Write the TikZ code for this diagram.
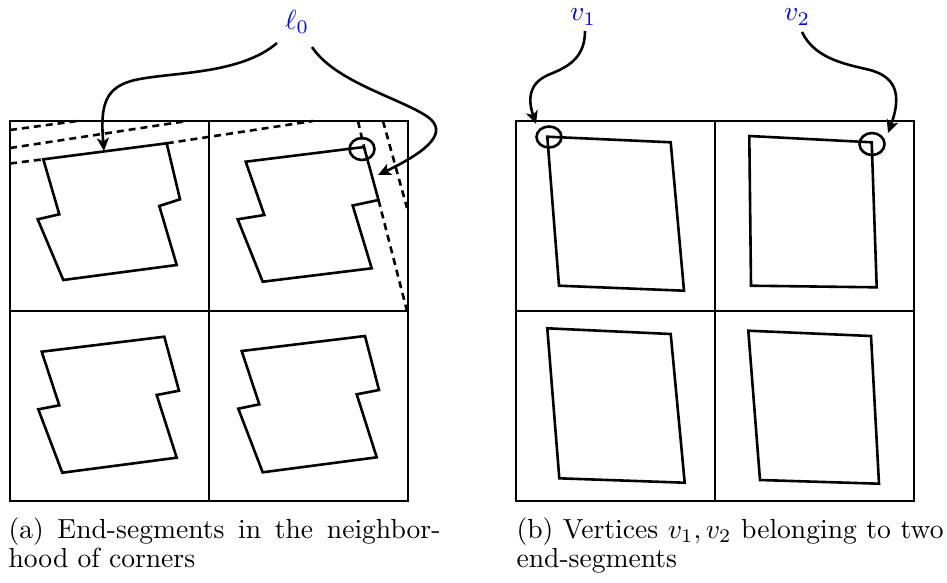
\documentclass[tikz,border=0pt]{standalone}
\usetikzlibrary{arrows.meta}
\begin{document}
\begin{tikzpicture}[x=1pt,y=-1pt,
  frame/.style={line width=2.8pt},
  poly/.style={line width=2.6pt,line join=miter},
  dline/.style={line width=2.6pt,dash pattern=on 7pt off 5pt},
  arr/.style={line width=2.6pt,-{Stealth[length=13pt,width=12pt,inset=3.5pt]}},
  circ/.style={line width=2.6pt},
  lab/.style={text=blue,scale=2.76,inner sep=0pt},
  captext/.style={scale=2.76,inner sep=0pt,anchor=base west}]
\useasboundingbox (0,0) rectangle (947,582);

% ---------- left panel ----------
% dashed lines
\draw[dline] (10,130) -- (77,121);
\draw[dline] (10,148) -- (187,121);
\draw[dline] (10,163.5) -- (43.3,159.3);
\draw[dline] (166.7,143.3) -- (313,121);
\draw[dline] (358,121) -- (364,147);
\draw[dline] (378.5,200) -- (407,311);
\draw[dline] (383,121) -- (407,208);

% polygons
\draw[poly] (43.3,159.3) -- (166.7,143.3) -- (180,199.3) -- (159.3,206) -- (176.7,265) -- (63.3,280) -- (37.7,219.3) -- (59.3,214.3) -- cycle;
\draw[poly] (245.7,161.7) -- (364,147) -- (378.5,200) -- (352.7,205.5) -- (371.7,268.3) -- (262.7,281.7) -- (237.7,219.3) -- (264.3,215) -- cycle;
\draw[poly] (41.7,351.7) -- (164.3,336.7) -- (179,390.7) -- (156.7,395) -- (176.7,457.7) -- (62.3,472.7) -- (38.3,409.3) -- (59.3,405.3) -- cycle;
\draw[poly] (241.7,351) -- (365,336) -- (379,390) -- (356.7,394.3) -- (376.7,457.3) -- (262.7,472.3) -- (238.3,408.7) -- (259.3,404.3) -- cycle;

% grid
\draw[frame] (10,121) rectangle (408,501);
\draw[frame] (209,121) -- (209,501);
\draw[frame] (10,311) -- (408,311);

% circle
\draw[circ] (362,149) ellipse [x radius=12.5pt, y radius=11pt];

% label and arrows
\node[lab] (l0) at (297,22) {$\ell_0$};
\coordinate (l0a) at (277,43);
\coordinate (l0b) at (312,47);
\coordinate (tA) at (104,151);
\coordinate (tB) at (378,175);
\draw[arr] (l0a) .. controls (240,75) and (170,72) .. (135,80)
                 .. controls (105,87) and (100,105) .. (tA);
\draw[arr] (l0b) .. controls (335,82) and (400,98) .. (428,117)
                 .. controls (448,132) and (430,150) .. (tB);

% ---------- right panel ----------
\draw[poly] (547.3,136.7) -- (670.7,142.3) -- (684,290.7) -- (559,285.7) -- cycle;
\draw[poly] (749.3,136) -- (871.7,142.3) -- (876.7,287.3) -- (751,285.7) -- cycle;
\draw[poly] (547.3,328.3) -- (670.7,334) -- (684.7,482.7) -- (559.3,478.3) -- cycle;
\draw[poly] (748.3,330.7) -- (871,336) -- (879,483.7) -- (760,480) -- cycle;

\draw[frame] (516,121) rectangle (914,501);
\draw[frame] (715,121) -- (715,501);
\draw[frame] (516,311) -- (914,311);

\draw[circ] (549,137) ellipse [x radius=12.5pt, y radius=10.5pt];
\draw[circ] (872,144) ellipse [x radius=12.5pt, y radius=11pt];

\node[lab] (v1) at (583,17) {$v_1$};
\node[lab] (v2) at (797,17) {$v_2$};
\coordinate (v1s) at (585,31);
\coordinate (v2s) at (802,32);
\coordinate (v1t) at (536,124);
\coordinate (v2t) at (888,133);
\draw[arr] (v1s) .. controls (585,60) and (565,68) .. (548,75)
                 .. controls (528,84) and (528,100) .. (v1t);
\draw[arr] (v2s) .. controls (815,60) and (850,65) .. (870,70)
                 .. controls (900,78) and (900,100) .. (v2t);

% ---------- captions ----------
\node[captext] (capa1) at (8,538) {\makebox[156.5pt][s]{(a) End-segments in the neighbor-}};
\node[captext] (capa2) at (8,567) {hood of corners};
\node[captext] (capb1) at (516,538) {\makebox[154.7pt][s]{(b) Vertices $v_1, v_2$ belonging to two}};
\node[captext] (capb2) at (516,567) {end-segments};
\end{tikzpicture}
\end{document}
